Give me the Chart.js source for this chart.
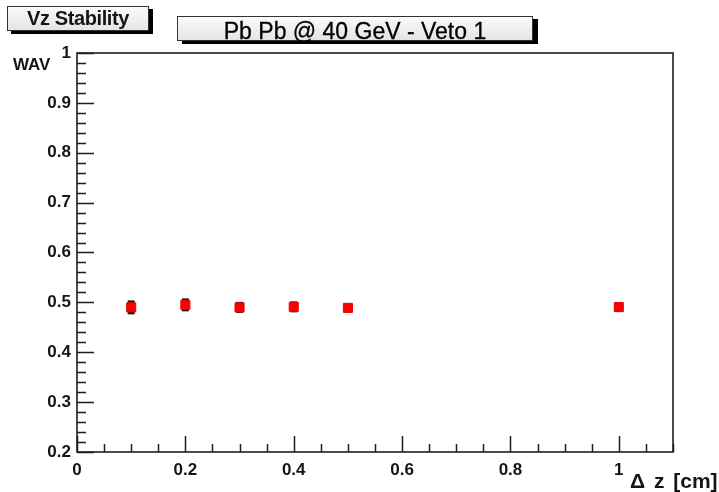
<!DOCTYPE html>
<html>
<head>
<meta charset="utf-8">
<title>Vz Stability</title>
<script src="https://cdn.jsdelivr.net/npm/chart.js@4.4.1/dist/chart.umd.min.js"></script>
<style>
  html, body { margin: 0; padding: 0; background: #fff; }
  #wrap {
    position: relative; width: 719px; height: 492px; overflow: hidden;
    font-family: "Liberation Sans", Arial, Helvetica, sans-serif; color: #151515;
  }
  #wavChart { position: absolute; left: 0; top: 0; }
  .pave {
    position: absolute; box-sizing: border-box; border: 1px solid #333;
    background: linear-gradient(#fbfbfb, #e4e4e4); white-space: nowrap; text-align: center;
  }
  #paveName { left: 7px; top: 6px; width: 142px; height: 25px; box-shadow: 4px 3px 0 #000;
    font-weight: bold; font-size: 20px; letter-spacing: -0.4px; line-height: 23px; }
  #paveTitle { left: 177px; top: 16px; width: 356px; height: 25px; box-shadow: 5px 3px 0 #000;
    font-size: 23px; line-height: 25px; padding-top: 2px; overflow: visible; color: #000;
    -webkit-text-stroke: 0.3px #000; }
  .axTitle { position: absolute; font-weight: bold; white-space: nowrap; }
  #yTitle { left: 13px; top: 55px; font-size: 17px; }
  #xTitle { left: 630px; top: 469px; font-size: 21px; word-spacing: 3px; }
</style>
</head>
<body>
<div id="wrap">
  <canvas id="wavChart" width="719" height="492"></canvas>
  <div class="pave" id="paveName">Vz Stability</div>
  <div class="pave" id="paveTitle">Pb Pb @ 40 GeV - Veto 1</div>
  <div class="axTitle" id="yTitle">WAV</div>
  <div class="axTitle" id="xTitle">&Delta; z [cm]</div>
</div>
<script>
// values
const deltaZ = [0.1, 0.2, 0.3, 0.4, 0.5, 1.0];
const wav    = [0.490, 0.495, 0.490, 0.491, 0.489, 0.4905];
const wavErr = [0.014, 0.013, 0.011, 0.011, 0.007, 0.009];

const xTickValues = [0, 0.2, 0.4, 0.6, 0.8, 1];
const yTickValues = [0.2, 0.3, 0.4, 0.5, 0.6, 0.7, 0.8, 0.9, 1];

const fmt = (v) => String(Number(v.toFixed(2)));

// error bars behind the markers
const errorBars = {
  id: 'errorBars',
  beforeDatasetsDraw(chart) {
    const { ctx, scales } = chart;
    ctx.save();
    ctx.fillStyle = '#2b1212';
    deltaZ.forEach((x, i) => {
      const px = scales.x.getPixelForValue(x);
      const top = scales.y.getPixelForValue(wav[i] + wavErr[i]);
      const bot = scales.y.getPixelForValue(wav[i] - wavErr[i]);
      ctx.fillRect(px - 3.5, top, 7, bot - top);
    });
    ctx.restore();
  },
};

// ROOT style frame with ticks pointing inside
const rootFrame = {
  id: 'rootFrame',
  afterDraw(chart) {
    const { ctx, chartArea: a, scales } = chart;
    ctx.save();
    ctx.strokeStyle = '#1e1e1e';
    ctx.lineWidth = 1.6;
    ctx.strokeRect(a.left, a.top, a.right - a.left, a.bottom - a.top);

    ctx.lineWidth = 1.5;
    ctx.beginPath();
    // y: major 0.1, minor 0.02
    for (let k = 0; k <= 40; k++) {
      const v = 0.2 + k * 0.02;
      const py = Math.round(scales.y.getPixelForValue(v)) + 0.5;
      const len = k % 5 === 0 ? 17 : 9;
      ctx.moveTo(a.left, py);
      ctx.lineTo(a.left + len, py);
    }
    // x: major 0.2, minor 0.05
    for (let k = 0; k <= 22; k++) {
      const v = k * 0.05;
      const px = Math.round(scales.x.getPixelForValue(v)) + 0.5;
      const len = k % 4 === 0 ? 16 : 8;
      ctx.moveTo(px, a.bottom);
      ctx.lineTo(px, a.bottom - len);
    }
    ctx.stroke();
    ctx.restore();
  },
};

const tickFont = { family: '"Liberation Sans", Arial, sans-serif', size: 17, weight: 'bold' };

new Chart(document.getElementById('wavChart'), {
  type: 'scatter',
  data: {
    datasets: [{
      label: 'WAV',
      data: deltaZ.map((x, i) => ({ x: x, y: wav[i] })),
      pointStyle: 'rect',
      pointRadius: 6.4,
      backgroundColor: '#ff0000',
      borderColor: '#e80000',
      borderWidth: 1,
    }],
  },
  plugins: [errorBars, rootFrame],
  options: {
    responsive: false,
    animation: false,
    devicePixelRatio: 1,
    layout: { padding: { top: 53, right: 46, left: 0, bottom: 0 } },
    plugins: { legend: { display: false }, tooltip: { enabled: false } },
    scales: {
      x: {
        type: 'linear', min: 0, max: 1.1,
        grid: { display: false, drawTicks: false },
        border: { display: false },
        afterBuildTicks: (s) => { s.ticks = xTickValues.map((v) => ({ value: v })); },
        afterFit: (s) => { s.height = 40; },
        ticks: { color: '#151515', font: tickFont, padding: 8, maxRotation: 0, callback: fmt },
      },
      y: {
        type: 'linear', min: 0.2, max: 1,
        grid: { display: false, drawTicks: false },
        border: { display: false },
        afterBuildTicks: (s) => { s.ticks = yTickValues.map((v) => ({ value: v })); },
        afterFit: (s) => { s.width = 77; },
        ticks: { color: '#151515', font: tickFont, padding: 6, callback: fmt },
      },
    },
  },
});
</script>
</body>
</html>
